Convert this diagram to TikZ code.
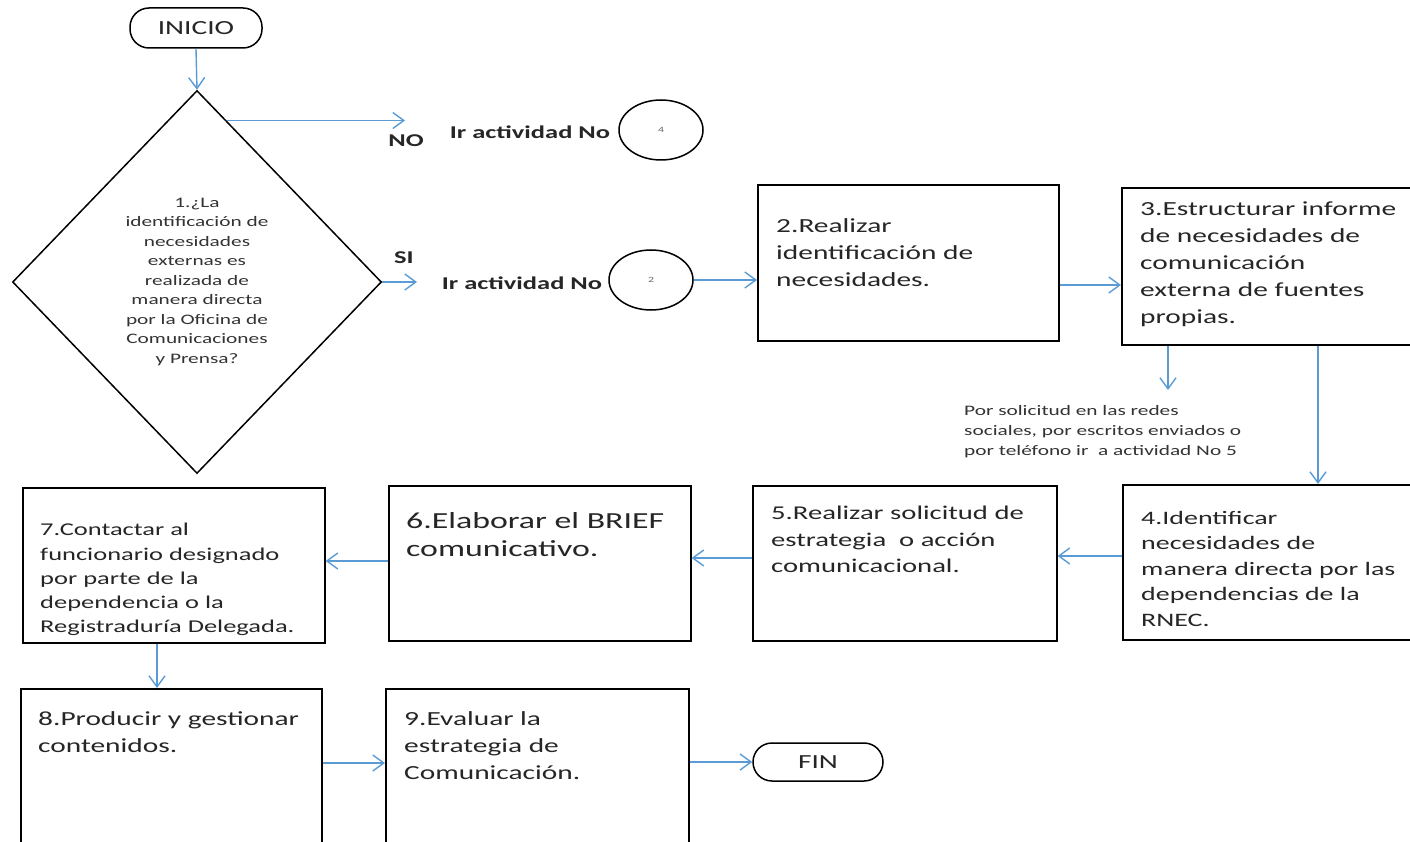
\documentclass[tikz,border=0pt]{standalone}
\usepackage{fontspec}
\setmainfont[FakeStretch=1.47]{Carlito}
\usetikzlibrary{shapes.geometric,arrows.meta,calc}
\definecolor{flowblue}{HTML}{5B9BD5}

\begin{document}
\begin{tikzpicture}[x=1pt, y=-1pt,
    stepbox/.style={draw, line width=1.6pt, anchor=north west, inner sep=0pt},
    steptext/.style={anchor=north west, inner sep=0pt, align=left, text=black!85, font=\fontsize{20}{27}\selectfont},
    term/.style={draw, line width=1.5pt, rounded corners=19pt, minimum width=132pt, minimum height=40pt, text=black!85, font=\fontsize{20}{24}\selectfont},
    link/.style={ellipse, draw, line width=1.5pt, minimum width=84pt, minimum height=60pt, inner sep=0pt, text=black!60, font=\fontsize{8}{10}\selectfont},
    smalltext/.style={inner sep=0pt, text=black!80, font=\fontsize{14.5}{19.5}\selectfont},
    tag/.style={inner sep=0pt, text=black!85, font=\bfseries\fontsize{18}{22}\selectfont},
    flow/.style={draw=flowblue, line width=1.4pt, -{Straight Barb[length=11pt,width=16pt]}}]
    \useasboundingbox (0,0) rectangle (1410,842);
    \fill[white] (0,0) rectangle (1410,842);
    \clip (0,0) rectangle (1410,842);

    % inicio y decision
    \node[term] (ini) at (196,28) {INICIO};
    \node[diamond, draw, line width=1.5pt, minimum width=369pt, minimum height=383pt, inner sep=0pt,
          align=center, text width=160pt, smalltext] (d) at (197,282)
        {1.¿La\\identificación de\\necesidades\\externas es\\realizada de\\manera directa\\por la Oficina de\\Comunicaciones\\y Prensa?};

    % salidas NO / SI
    \coordinate (no) at (405,121);
    \coordinate (si) at (417,282);
    \node[tag] (lno) at (406,141) {NO};
    \node[tag] (lsi) at (404,258) {SI};
    \node[tag] (ir4) at (530,132) {Ir actividad No};
    \node[tag] (ir2) at (522,283) {Ir actividad No};
    \node[link] (c4) at (661,130) {4};
    \node[link] (c2) at (651,280) {2};

    % actividades
    \node[stepbox, minimum width=301pt, minimum height=156pt] (b2) at (757,184) {};
    \node[stepbox, minimum width=310pt, minimum height=157pt] (b3) at (1121,187) {};
    \node[stepbox, minimum width=310pt, minimum height=155pt] (b4) at (1122,484) {};
    \node[stepbox, minimum width=304pt, minimum height=155pt] (b5) at (752,485) {};
    \node[stepbox, minimum width=302pt, minimum height=155pt] (b6) at (388,485) {};
    \node[stepbox, minimum width=302pt, minimum height=155pt] (b7) at (22,487) {};
    \node[stepbox, minimum width=301pt, minimum height=170pt] (b8) at (20,688) {};
    \node[stepbox, minimum width=303pt, minimum height=170pt] (b9) at (385,688) {};
    \node[term, minimum width=130pt, minimum height=38pt] (fin) at (818,762) {FIN};

    % textos
    \node[steptext] (t2) at (776,218) {2.Realizar\\identificación de\\necesidades.};
    \node[steptext] (t3) at (1140,202) {3.Estructurar informe\\de necesidades de\\comunicación\\externa de fuentes\\propias.};
    \node[steptext, font=\fontsize{19}{25.5}\selectfont] (t4) at (1141,511) {4.Identificar\\necesidades de\\manera directa por las\\dependencias de la\\RNEC.};
    \node[steptext, font=\fontsize{19.5}{26.5}\selectfont] (t5) at (771,506) {5.Realizar solicitud de\\estrategia\ \ o acción\\comunicacional.};
    \node[steptext, font=\fontsize{23}{28}\selectfont] (t6) at (406,512) {6.Elaborar el BRIEF\\comunicativo.};
    \node[steptext, font=\fontsize{18}{24.3}\selectfont] (t7) at (40,523) {7.Contactar al\\funcionario designado\\por parte de la\\dependencia o la\\Registraduría Delegada.};
    \node[steptext] (t8) at (38,711) {8.Producir y gestionar\\contenidos.};
    \node[steptext] (t9) at (404,711) {9.Evaluar la\\estrategia de\\Comunicación.};
    \node[smalltext, anchor=north west, align=left, font=\fontsize{14.5}{20}\selectfont] (nota) at (964,405)
        {Por solicitud en las redes\\sociales, por escritos enviados o\\por teléfono ir\ \ a actividad No 5};
    \coordinate (n3) at (1168,390);

    % flechas
    \draw[flow] (ini.south) -- (d.north);
    \draw[flow] ($(d.north)!0.16!(d.east)$) coordinate (n0) -- (n0 -| no);
    \draw[flow] (d.east) -- (si);
    \draw[flow] (c2.east) -- (b2.west |- c2.east);
    \draw[flow] (b2.east |- 0,285) -- (b3.west |- 0,285);
    \draw[flow] (b3.south -| n3) -- (n3);
    \draw[flow] (b3.south -| 1318,0) -- (b4.north -| 1318,0);
    \draw[flow] (b4.west |- 0,556) -- (b5.east |- 0,556);
    \draw[flow] (b5.west |- 0,558) -- (b6.east |- 0,558);
    \draw[flow] (b6.west |- 0,561) -- (b7.east |- 0,561);
    \draw[flow] (b7.south -| 157,0) -- (b8.north -| 157,0);
    \draw[flow] (b8.east |- 0,763) -- (b9.west |- 0,763);
    \draw[flow] (b9.east |- fin.west) -- (fin.west);
\end{tikzpicture}
\end{document}
